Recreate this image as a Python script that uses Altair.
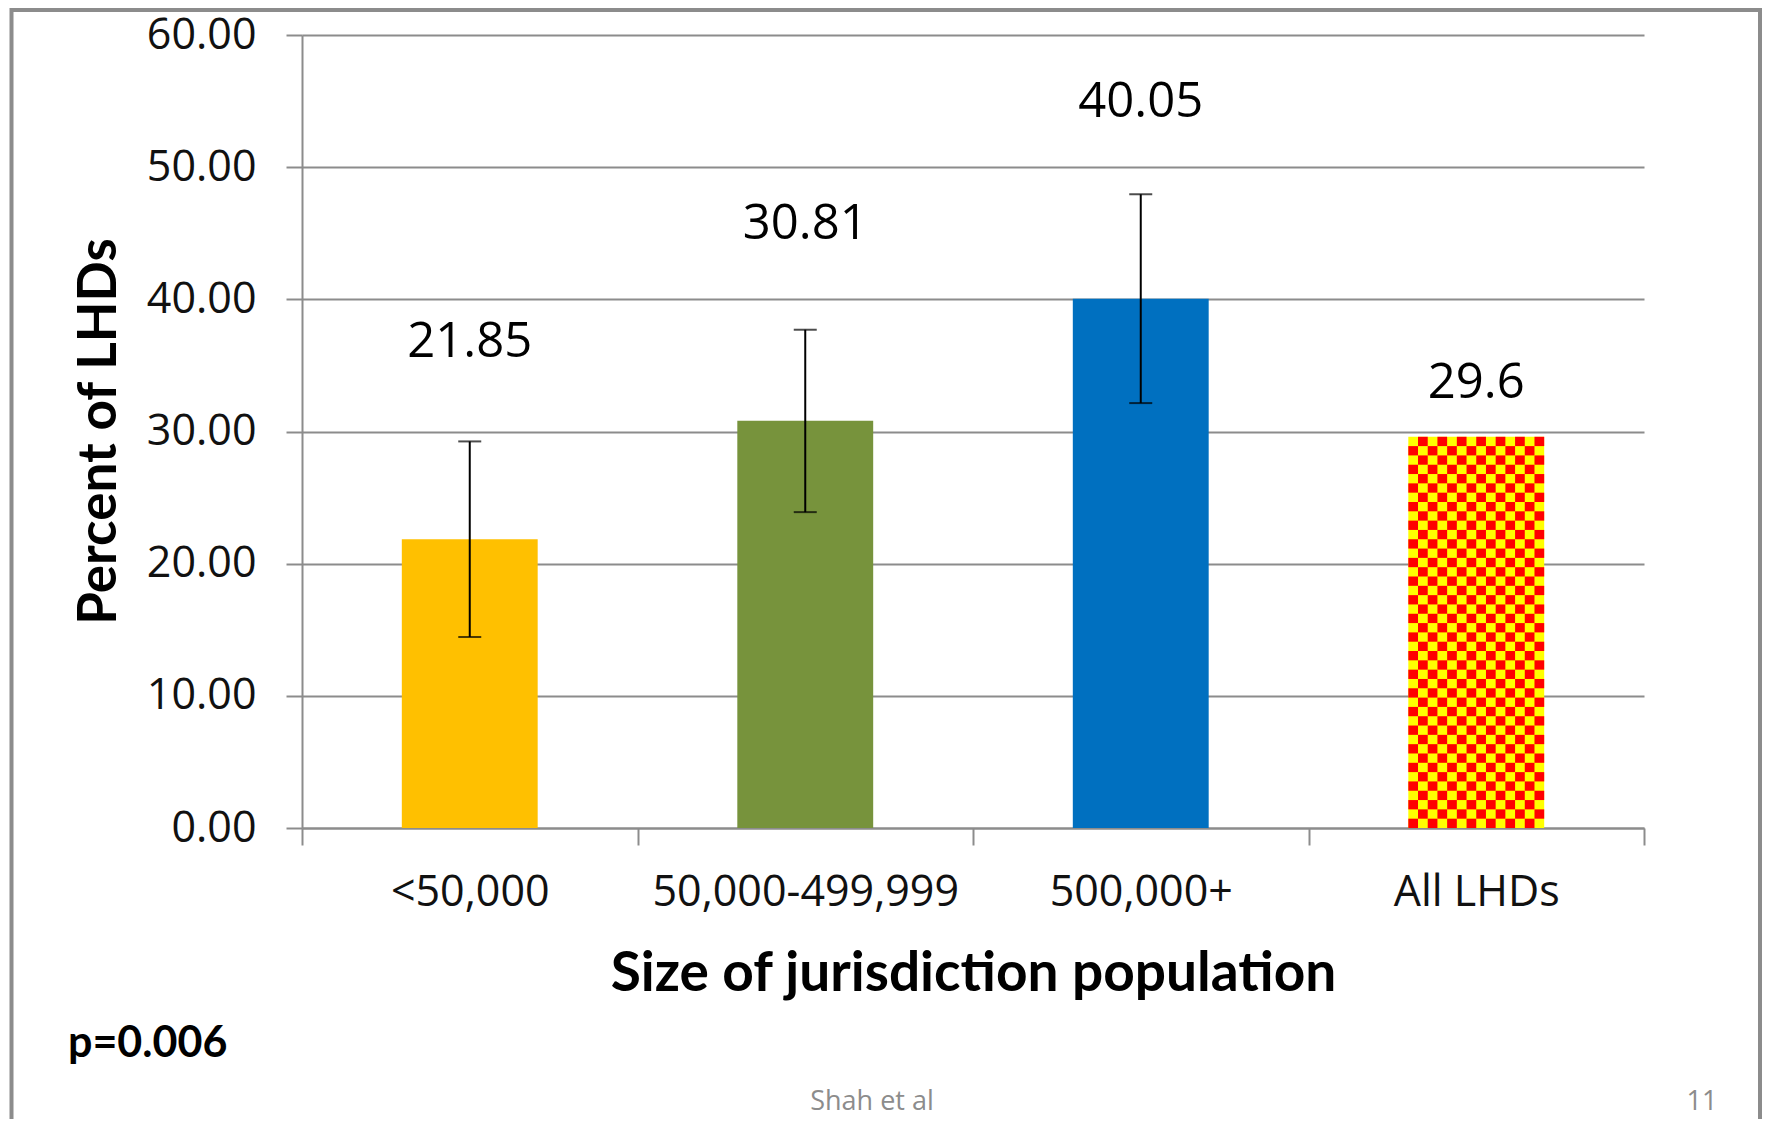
import altair as alt
import pandas as pd

# ---- data ----
categories = ["<50,000", "50,000-499,999", "500,000+", "All LHDs"]
values = [21.85, 30.81, 40.05, 29.6]
value_labels = ["21.85", "30.81", "40.05", "29.6"]
err_low = [14.45, 23.9, 32.15, None]
err_high = [29.25, 37.7, 47.95, None]
y_ticks = [0, 10, 20, 30, 40, 50, 60]

# ---- styles ----
bar_colors = ["#FFC000", "#77933C", "#0070C0", "#FFFF00"]
GRAY = "#8c8c8c"
CHECK_RED = "#FF0000"
N_ROWS, N_COLS = 42, 14
BAR_FRAC = 0.405
PAD_COLS = 10

df = pd.DataFrame({
    "cat": categories,
    "value": values,
    "label": value_labels,
    "lo": err_low,
    "hi": err_high,
})

# checker texture for the "All LHDs" bar, built from its value
all_val = values[3]
cells = []
for r in range(N_ROWS):
    for c in range(N_COLS):
        if (r + c) % 2 == 0:
            cells.append({
                "cat": categories[3],
                "col": c,
                "y0": all_val * r / N_ROWS,
                "y1": all_val * (r + 1) / N_ROWS,
            })
cells_df = pd.DataFrame(cells)

x_scale = alt.Scale(domain=categories, paddingInner=0, paddingOuter=0)
y_scale = alt.Scale(domain=[0, 60], nice=False)

x_axis = alt.Axis(
    title="Size of jurisdiction population",
    labelAngle=0, labelFont="Open Sans", labelFontSize=43, labelColor="#111111",
    labelPadding=26, labelLimit=600, labelOverlap=False,
    tickBand="extent", tickSize=17, tickWidth=2, tickColor=GRAY,
    domainColor=GRAY, domainWidth=2, grid=False,
    titleFont="Lato", titleFontSize=55, titleFontWeight="bold", titleColor="black",
    titleY=162, titleBaseline="alphabetic",
)
y_axis = alt.Axis(
    values=y_ticks, format=".2f",
    labelFont="Open Sans", labelFontSize=43, labelColor="#111111", labelPadding=30,
    tickSize=16, tickWidth=2, tickColor=GRAY,
    domainColor=GRAY, domainWidth=2,
    grid=True, gridColor=GRAY, gridWidth=2,
    title="Percent of LHDs", titleFont="Lato", titleFontSize=53,
    titleFontWeight="bold", titleColor="black",
    titleAngle=270, titleX=-187, titleY=396, titleBaseline="alphabetic",
)

X = alt.X("cat:N", sort=categories, scale=x_scale, axis=x_axis)
Xn = alt.X("cat:N", sort=categories)

bars = alt.Chart(df).mark_bar(width=alt.RelativeBandSize(BAR_FRAC)).encode(
    x=X,
    y=alt.Y("value:Q", scale=y_scale, axis=y_axis),
    color=alt.Color("cat:N", scale=alt.Scale(domain=categories, range=bar_colors), legend=None),
)

n_total = N_COLS / BAR_FRAC
checks = alt.Chart(cells_df).mark_rect(color=CHECK_RED).encode(
    x=Xn,
    xOffset=alt.XOffset(
        "col:O",
        scale=alt.Scale(
            domain=list(range(-PAD_COLS, N_COLS + PAD_COLS)),
            paddingInner=0,
            paddingOuter=(n_total - (N_COLS + 2 * PAD_COLS)) / 2,
        ),
    ),
    y="y0:Q",
    y2="y1:Q",
)

err_rule = alt.Chart(df).mark_rule(color="black", strokeWidth=2).encode(
    x=Xn, y="lo:Q", y2="hi:Q"
)
cap_lo = alt.Chart(df).mark_tick(color="black", size=23, thickness=2).encode(
    x=Xn, y="lo:Q"
)
cap_hi = alt.Chart(df).mark_tick(color="black", size=23, thickness=2).encode(
    x=Xn, y="hi:Q"
)

labels = alt.Chart(df).transform_calculate(
    label_y="datum.hi != null ? datum.value + 14.9 : datum.value + 4.1"
).mark_text(font="Open Sans", fontSize=49, color="black", baseline="middle").encode(
    x=Xn, y="label_y:Q", text="label:N"
)

one = alt.Data(values=[{"k": 1}])
p_text = alt.Chart(one).mark_text(
    text="p=0.006", font="Lato", fontSize=43, fontWeight="bold", color="black",
    align="left", baseline="middle",
).encode(x=alt.value(-234), y=alt.value(1009))

footer = alt.Chart(one).mark_text(
    text="Shah et al", font="Open Sans", fontSize=27, color=GRAY,
    align="center", baseline="alphabetic",
).encode(x=alt.value(570), y=alt.value(1075))

page_no = alt.Chart(one).mark_text(
    text="11", font="Open Sans", fontSize=27, color=GRAY,
    align="center", baseline="alphabetic",
).encode(x=alt.value(1400), y=alt.value(1075))

border = alt.Chart(one).mark_rect(filled=False, stroke=GRAY, strokeWidth=4).encode(
    x=alt.value(-290.5), x2=alt.value(1458), y=alt.value(-25), y2=alt.value(1300)
)

chart = alt.layer(
    bars, checks, err_rule, cap_lo, cap_hi, labels, p_text, footer, page_no, border
).properties(
    width=1342, height=793,
    autosize=alt.AutoSizeParams(type="none"),
    padding={"left": 294, "top": 27, "right": 118, "bottom": 291},
    background="white",
).configure_view(stroke=None)

chart.save("out.html", embed_options={"renderer": "svg", "actions": False})
